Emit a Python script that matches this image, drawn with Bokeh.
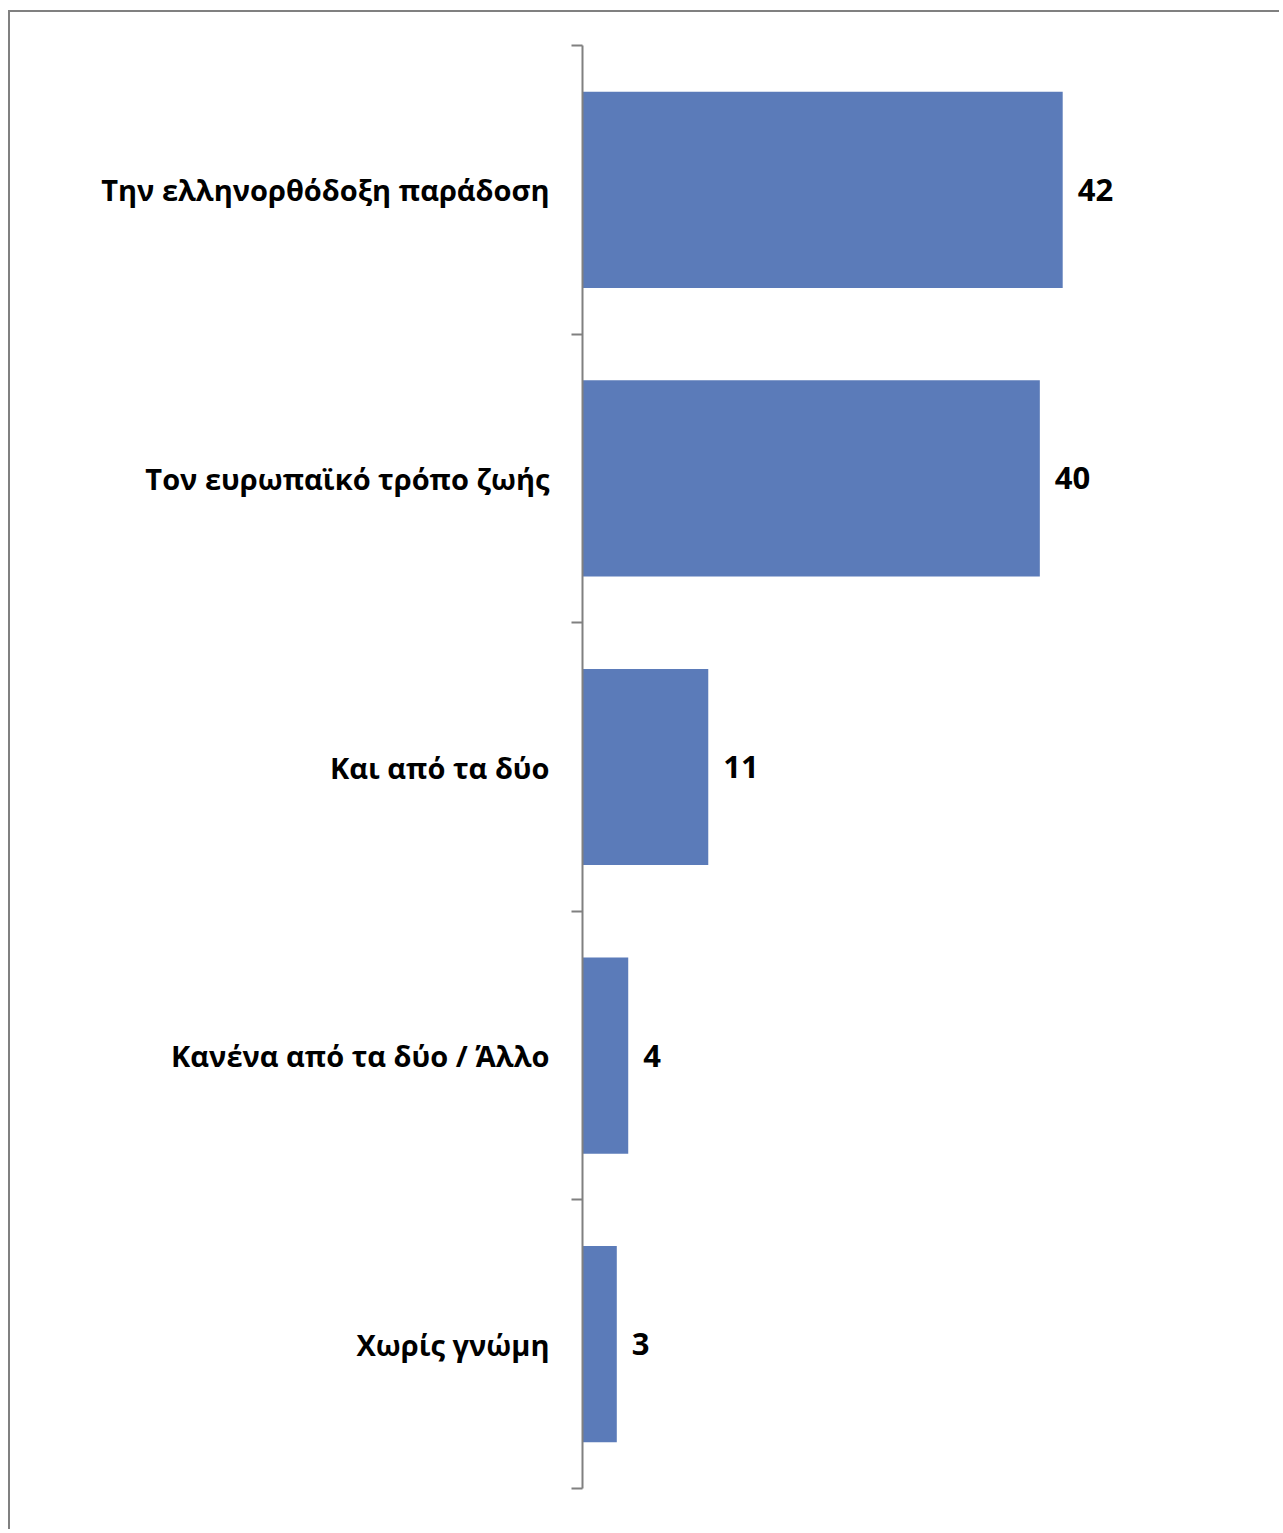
from bokeh.plotting import figure
from bokeh.models import Range1d, FixedTicker, LinearAxis, ColumnDataSource, LabelSet
from bokeh.core.properties import value
from bokeh.embed import file_html
from bokeh.resources import INLINE

categories = ["Την ελληνορθόδοξη παράδοση", "Τον ευρωπαϊκό τρόπο ζωής", "Και από τα δύο",
              "Κανένα από τα δύο / Άλλο", "Χωρίς γνώμη"]
values = [42, 40, 11, 4, 3]

n = len(categories)
ypos = [n - i - 0.5 for i in range(n)]

W, H = 1271, 1519
p = figure(width=W, height=H, output_backend="svg", toolbar_location=None,
           x_range=Range1d(0, 59.3), y_range=Range1d(0, n),
           x_axis_location=None, y_axis_location=None,
           min_border_left=572, min_border_right=21, min_border_top=33, min_border_bottom=43)
p.styles = {"border-left": "2px solid #808080", "border-top": "2px solid #808080",
            "margin-top": "10px", "margin-left": "8px"}
p.grid.visible = False
p.outline_line_color = None
p.background_fill_color = "white"
p.border_fill_color = "white"

src = ColumnDataSource(dict(y=ypos, v=values, lab=[str(v) for v in values]))
p.hbar(y="y", right="v", left=0, height=0.68, source=src, fill_color="#5B7BB9", line_color=None)

labels = LabelSet(x="v", y="y", text="lab", source=src, x_offset=15, text_align="left",
                  text_baseline="middle", text_font=value("Open Sans"), text_font_style="bold",
                  text_font_size="31px", text_color="black")
p.add_layout(labels)

ax = LinearAxis(ticker=FixedTicker(ticks=ypos, minor_ticks=list(range(n + 1))))
ax.major_label_overrides = {y: c for y, c in zip(ypos, categories)}
ax.major_tick_line_color = None
ax.major_tick_out = 0
ax.major_tick_in = 0
ax.minor_tick_out = 11
ax.minor_tick_in = 0
ax.minor_tick_line_color = "#808080"
ax.minor_tick_line_width = 2
ax.axis_line_color = "#808080"
ax.axis_line_width = 2
ax.major_label_standoff = 22
ax.major_label_text_font = "Open Sans"
ax.major_label_text_font_style = "bold"
ax.major_label_text_font_size = "29px"
ax.major_label_text_color = "black"
p.add_layout(ax, "left")

open("out.html", "w").write(file_html(p, INLINE))
